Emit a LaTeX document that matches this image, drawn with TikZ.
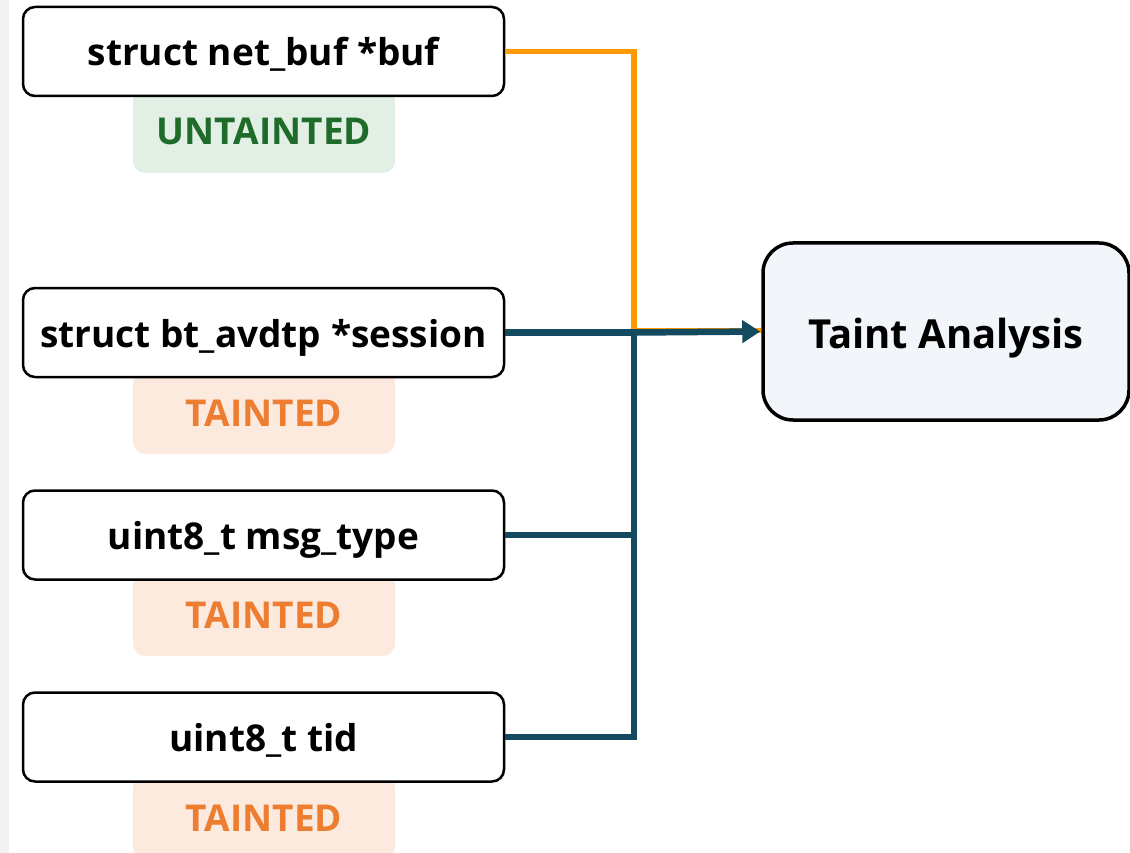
\documentclass[tikz,border=0pt]{standalone}
\usepackage{fontspec}
\setmainfont{Open Sans}
\usetikzlibrary{arrows.meta}

\definecolor{stripgray}{HTML}{F2F2F2}
\definecolor{okfill}{HTML}{E1EFE4}
\definecolor{oktext}{HTML}{1F6B2A}
\definecolor{badfill}{HTML}{FCEADF}
\definecolor{badtext}{HTML}{ED7D31}
\definecolor{flowteal}{HTML}{144A5F}
\definecolor{floworange}{HTML}{FF9A00}
\definecolor{sinkfill}{HTML}{F2F5F9}

\tikzset{
  param/.style={draw=black, line width=2.5pt, rounded corners=12pt, fill=white,
    minimum width=481pt, minimum height=89pt, inner sep=0pt,
    text height=29pt, text depth=0pt,
    font=\fontsize{37}{44}\selectfont\bfseries},
  badge/.style={rounded corners=12pt, minimum width=262pt, minimum height=84pt,
    inner sep=0pt, text height=28pt, text depth=0pt,
    font=\fontsize{37}{44}\selectfont\bfseries},
  clean/.style={badge, fill=okfill, text=oktext},
  tainted/.style={badge, fill=badfill, text=badtext},
  sink/.style={draw=black, line width=3.5pt, rounded corners=30pt, fill=sinkfill,
    minimum width=366pt, minimum height=177pt, inner sep=0pt,
    text height=33pt, text depth=0pt,
    font=\fontsize{40}{48}\selectfont\bfseries},
  teal/.style={draw=flowteal, line width=6.5pt},
  orangeflow/.style={draw=floworange, line width=5.5pt},
}

\begin{document}
\begin{tikzpicture}[x=1pt, y=-1pt]
  \useasboundingbox (0,0) rectangle (1130,853);
  % light strip along the left margin
  \fill[stripgray] (0,0) rectangle (9,853);

  % taint labels (partly covered by the parameter boxes)
  \node[clean]   (t1) at (264,131) {UNTAINTED};
  \node[tainted] (t2) at (264,412) {TAINTED};
  \node[tainted] (t3) at (264,614) {TAINTED};
  \node[tainted] (t4) at (264,817) {TAINTED};

  % function parameters
  \node[param] (b1) at (263.5,51.5) {struct net\_buf *buf};
  \node[param] (b2) at (263.5,332.5) {struct bt\_avdtp *session};
  \node[param] (b3) at (263.5,535) {uint8\_t msg\_type};
  \node[param] (b4) at (263.5,737) {uint8\_t tid};

  % analysis sink
  \node[sink] (ta) at (946,331.5) {Taint Analysis};

  % routing points
  \coordinate (bus) at (634,332.5);
  \coordinate (obus) at (634,330.5);

  % untainted flow
  \draw[orangeflow] (b1.east) -| (obus) -- (obus -| ta.west);

  % tainted flows
  \draw[teal] (b4.east) -| (bus);
  \draw[teal] (b3.east) -- (b3.east -| bus);
  \draw[teal] (b2.east) -- (bus);
  \draw[teal, -{Triangle[length=18pt,width=22pt]}, shorten >=1pt] (bus) -- (ta.west);
\end{tikzpicture}
\end{document}
